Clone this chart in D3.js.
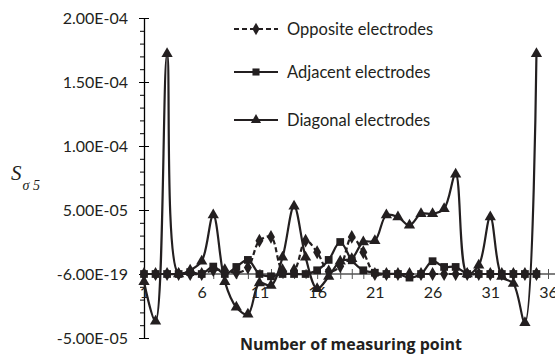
<!DOCTYPE html>
<html>
<head>
<meta charset="utf-8">
<script src="https://cdn.jsdelivr.net/npm/d3@7"></script>
<style>
  html, body { margin: 0; padding: 0; background: #fff; }
  svg { display: block; font-family: Lato, "Open Sans", sans-serif; }
</style>
</head>
<body>
<svg id="chart" width="555" height="356"></svg>
<script>
// measuring points (categories)
const points = [1,2,3,4,5,6,7,8,9,10,11,12,13,14,15,16,17,18,19,20,21,22,23,24,25,26,27,28,29,30,31,32,33,34,35];

const opposite = [0,0,0,0,0,0,3e-6,3e-6,1e-6,5e-6,2.6e-5,2.9e-5,3e-6,3e-6,2.6e-5,1.7e-5,2e-6,6e-6,2.9e-5,1.7e-5,
  0,0,0,0,0,0,0,0,0,0,0,0,0,0,0];
const adjacent = [0,0,0,0,1.5e-6,0,5.8e-6,0,5.5e-6,1.1e-5,0,-1.8e-6,0,0,0,2.9e-6,1.1e-5,2.5e-5,1.07e-5,2.9e-6,
  1e-6,0,0,-2.8e-6,0,1e-5,5.5e-6,5.5e-6,0,0,0,0,0,0,0];
const diagonal = [-6e-6,-3.7e-5,1.72e-4,0,3e-6,1.0e-5,4.6e-5,-6e-6,-2.6e-5,-3.15e-5,-7e-6,-9e-6,1.3e-5,5.3e-5,1.3e-5,-1.15e-5,-2e-6,1.0e-5,1.2e-5,2.5e-5,
  2.6e-5,4.6e-5,4.45e-5,3.8e-5,4.7e-5,4.7e-5,5.1e-5,7.8e-5,0,6.8e-6,4.45e-5,-2e-6,-7.5e-6,-3.8e-5,1.72e-4];

const seriesNames = ["Opposite electrodes", "Adjacent electrodes", "Diagonal electrodes"];

const yTicks = [-5e-5, 0, 5e-5, 1e-4, 1.5e-4, 2e-4];
const yTickLabels = ["-5.00E-05", "-6.00E-19", "5.00E-05", "1.00E-04", "1.50E-04", "2.00E-04"];
const xTickLabels = [1, 6, 11, 16, 21, 26, 31, 36];

const svg = d3.select('#chart');

const x = d3.scaleLinear().domain([1, 36]).range([144, 548]);
const y = d3.scaleLinear().domain([-5e-5, 2e-4]).range([338, 18]);

// y axis: minor ticks every 1e-5
const minorTicks = d3.range(-5, 21).map(d => d * 1e-5);
svg.append('g')
  .attr('transform', `translate(${x(1)},0)`)
  .call(d3.axisLeft(y).tickValues(minorTicks).tickSize(4).tickFormat(''))
  .call(g => g.select('.domain').remove())
  .selectAll('line').attr('stroke', '#000').attr('stroke-width', 1);

const yAxis = svg.append('g')
  .attr('transform', `translate(${x(1)},0)`)
  .call(d3.axisLeft(y).tickValues(yTicks).tickSizeOuter(0)
        .tickFormat((d, i) => yTickLabels[i]));
yAxis.select('.domain').attr('stroke', '#000').attr('stroke-width', 1.3);
yAxis.selectAll('.tick line').attr('x1', 5).attr('x2', -5).attr('stroke', '#000');
yAxis.selectAll('.tick text')
  .attr('x', -16)
  .attr('fill', '#231f20')
  .style('font-size', '16px')
  .style('font-family', 'Lato, sans-serif');

// x axis through zero
const xAxis = svg.append('g')
  .attr('transform', `translate(0,${y(0)})`)
  .call(d3.axisBottom(x).tickValues(d3.range(1, 37)).tickSizeOuter(0)
        .tickFormat(d => xTickLabels.includes(d) ? d : ''));
xAxis.select('.domain').attr('d', `M${x(1)},0H555`).attr('stroke', '#555').attr('stroke-width', 1.3);
xAxis.selectAll('.tick line').attr('y1', -5).attr('y2', 5).attr('stroke', '#555');
xAxis.selectAll('.tick text')
  .attr('y', 13)
  .attr('fill', '#231f20')
  .style('font-size', '16px')
  .style('font-family', 'Lato, sans-serif');

// series lines
const line = d3.line()
  .x((d, i) => x(points[i]))
  .y(d => y(d))
  .curve(d3.curveCatmullRom.alpha(0.5));

const seriesData = [opposite, adjacent, diagonal];
const dashes = ['5,3', null, null];
const symbols = [d3.symbolDiamond, d3.symbolSquare, d3.symbolTriangle];
const symSizes = [55, 60, 55];

seriesData.forEach((vals, k) => {
  const g = svg.append('g');
  g.append('path')
    .datum(vals)
    .attr('d', line)
    .attr('fill', 'none')
    .attr('stroke', '#231f20')
    .attr('stroke-width', 2.2)
    .attr('stroke-dasharray', dashes[k]);
  g.selectAll('path.mk')
    .data(vals)
    .enter()
    .append('path')
    .classed('mk', true)
    .attr('transform', (d, i) => `translate(${x(points[i])},${y(d)})`)
    .attr('d', d3.symbol().type(symbols[k]).size(symSizes[k]))
    .attr('fill', '#231f20');
});

// legend
const legend = svg.append('g').attr('transform', 'translate(234,0)');
const legendY = [29, 72, 120];
seriesNames.forEach((name, k) => {
  const row = legend.append('g').attr('transform', `translate(0,${legendY[k]})`);
  row.append('line')
    .attr('x1', 0).attr('x2', 44)
    .attr('stroke', '#231f20')
    .attr('stroke-width', 2)
    .attr('stroke-dasharray', dashes[k]);
  row.append('path')
    .attr('transform', 'translate(22,0)')
    .attr('d', d3.symbol().type(symbols[k]).size(symSizes[k] - 10))
    .attr('fill', '#231f20');
  row.append('text')
    .attr('x', 53)
    .attr('dy', '0.35em')
    .attr('fill', '#231f20')
    .style('font-size', '16.5px')
    .text(name);
});

// axis titles
svg.append('text')
  .attr('x', 351)
  .attr('y', 350)
  .attr('text-anchor', 'middle')
  .attr('fill', '#231f20')
  .style('font-family', '"Open Sans", Lato, sans-serif')
  .style('font-size', '16px')
  .style('font-weight', 'bold')
  .text('Number of measuring point');

const yt = svg.append('text')
  .attr('x', 11)
  .attr('y', 180)
  .attr('fill', '#231f20')
  .style('font-family', '"Liberation Serif", "DejaVu Serif", serif')
  .style('font-style', 'italic')
  .style('font-size', '21px');
yt.append('tspan').text('S');
yt.append('tspan')
  .attr('dx', 1)
  .attr('dy', 10)
  .style('font-size', '14px')
  .text('σ 5');
</script>
</body>
</html>
